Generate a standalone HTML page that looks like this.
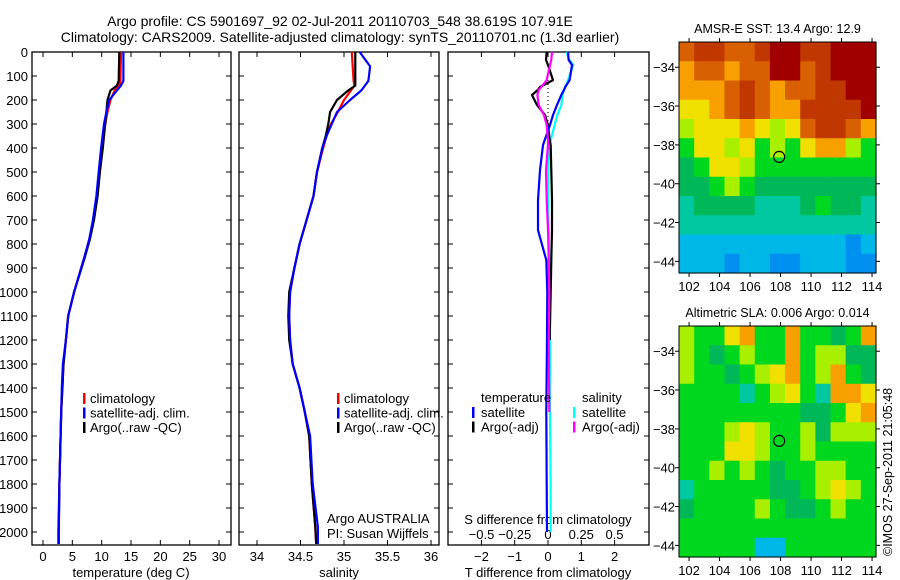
<!DOCTYPE html>
<html><head><meta charset="utf-8"><style>
body{margin:0;background:#fff;}
svg{display:block;font-family:"Liberation Sans",sans-serif;}
text{font-size:13px;fill:#000;}
</style></head><body>
<svg id="fig" width="900" height="580" viewBox="0 0 900 580" xmlns="http://www.w3.org/2000/svg">
<text x="340" y="26" text-anchor="middle" style="font-size:14px">Argo profile: CS 5901697_92 02-Jul-2011 20110703_548 38.619S 107.91E</text>
<text x="340" y="42" text-anchor="middle" style="font-size:14px">Climatology: CARS2009. Satellite-adjusted climatology: synTS_20110701.nc (1.3d earlier)</text>
<g id="g"></g>
</svg>
<script>
// ---- data ----
const tDepth=[0,120,140,160,200,250,300,400,500,600,700,780,850,1000,1100,1200,1300,1400,1500,1600,1700,1800,1900,2000,2050];
const tArgo=[13.0,12.9,12.6,11.5,11.0,10.8,10.6,10.2,9.7,9.3,8.7,8.0,7.2,5.3,4.3,3.9,3.5,3.3,3.1,3.0,2.9,2.8,2.75,2.7,2.7];
const tClim=[13.3,13.2,13.0,12.2,11.5,11.0,10.6,10.0,9.6,9.2,8.6,7.9,7.1,5.3,4.3,3.9,3.5,3.3,3.1,3.0,2.9,2.8,2.7,2.6,2.6];
const tSat=[13.7,13.7,13.3,12.6,11.3,10.8,10.4,9.9,9.5,9.1,8.5,7.9,7.1,5.3,4.3,3.9,3.4,3.2,3.1,3.0,2.9,2.8,2.75,2.65,2.65];
const sDepth=[0,60,120,140,160,200,250,300,350,400,500,600,700,800,900,1000,1100,1200,1300,1400,1500,1600,1800,1980,2050];
const sArgo=[35.13,35.13,35.13,35.13,35.05,34.92,34.84,34.82,34.79,34.75,34.69,34.65,34.57,34.49,34.43,34.37,34.36,34.37,34.41,34.49,34.55,34.60,34.63,34.67,34.68];
const sClim=[35.09,35.1,35.11,35.12,35.08,35.0,34.93,34.85,34.80,34.76,34.69,34.65,34.57,34.49,34.43,34.38,34.37,34.38,34.41,34.49,34.55,34.60,34.63,34.67,34.68];
const sSat=[35.18,35.30,35.28,35.24,35.20,35.07,34.92,34.86,34.80,34.75,34.69,34.65,34.57,34.49,34.43,34.38,34.37,34.38,34.41,34.49,34.55,34.61,34.64,34.70,34.70];
const dDepth=[0,33,54,117,146,158,179,221,263,304,367,388,492,617,742,867,1000,1200,1500,1800,2000];
const dTArgo=[-0.04,-0.06,0.0,0.15,-0.24,-0.3,-0.48,-0.33,-0.09,0,0.05,0.08,0.1,0.12,0.12,0.1,0.08,0.05,null,null,null];
const dTSat=[0.6,0.62,0.72,0.65,0.52,0.48,0.4,0.27,0.15,0.06,-0.1,-0.15,-0.24,-0.3,-0.3,-0.05,-0.02,-0.03,-0.05,-0.04,-0.03];
const dSSat=[0.14,0.16,0.19,0.15,0.13,0.12,0.11,0.1,0.07,0.05,0.02,0.015,0.0,0.0,0.005,0.01,0.01,0.015,0.015,0.02,0.02];
const dSArgo=[0.03,0.025,0.015,-0.01,-0.05,-0.07,-0.08,-0.07,-0.03,-0.01,0,0,-0.015,-0.01,0,0.005,0.01,0.005,0.01,null,null];
const depthTicks=[0,100,200,300,400,500,600,700,800,900,1000,1100,1200,1300,1400,1500,1600,1700,1800,1900,2000];
const tTicks=[0,5,10,15,20,25,30];
const sTicks=[34,34.5,35,35.5,36];
const dtTicks=[-2,-1,0,1,2];
const dsTicks=[-0.5,-0.25,0,0.25,0.5];
const lonTicks=[102,104,106,108,110,112,114];
const latTicks=[-34,-36,-38,-40,-42,-44];
const palette=["#0050d8","#0090f0","#00b8e8","#00c8a0","#00b858","#00d820","#a8f000","#f0e000","#f8a000","#d86000","#c03800","#a00000"];
const sstGrid=[
[9,10,10,9,9,10,11,11,10,10,11,11,11],
[8,9,9,8,9,9,11,11,9,10,11,11,11],
[8,8,8,9,10,9,8,9,9,10,10,11,11],
[7,7,8,9,10,9,8,8,10,10,10,10,11],
[6,7,7,7,8,7,6,7,9,10,10,9,8],
[5,7,7,6,7,5,6,5,7,8,8,6,5],
[4,5,7,7,6,5,5,5,5,5,5,5,5],
[4,4,5,6,5,4,4,4,4,4,4,4,4],
[3,4,4,4,4,3,3,3,4,5,4,4,3],
[3,3,3,3,3,3,3,3,3,3,3,3,3],
[2,2,2,2,2,2,2,2,2,2,2,1,2],
[2,2,2,1,2,2,1,1,2,2,2,1,1]];
const slaGrid=[
[6,5,5,7,8,5,5,8,5,5,4,5,8],
[6,5,4,5,6,5,5,8,5,6,6,4,4],
[6,5,5,4,5,6,7,8,5,6,8,5,4],
[5,5,5,5,3,5,6,7,5,3,8,8,7],
[5,5,5,5,5,5,5,5,4,4,5,7,8],
[5,5,5,6,7,6,5,5,6,4,6,6,6],
[5,5,5,7,7,6,5,5,6,5,5,5,5],
[5,5,6,5,6,5,4,5,5,6,6,5,5],
[3,5,5,5,5,5,4,4,5,6,7,6,5],
[4,5,5,5,5,6,5,4,4,5,6,5,5],
[5,5,5,5,5,5,5,5,5,5,5,5,5],
[5,5,5,5,5,2,2,5,5,5,5,5,5]];
const argoLon=107.91, argoLat=-38.619;

// ---- drawing ----
const NS="http://www.w3.org/2000/svg";
const G=document.getElementById('g');
function mk(tag,attrs,parent){const e=document.createElementNS(NS,tag);for(const k in attrs)e.setAttribute(k,attrs[k]);(parent||G).appendChild(e);return e;}
function txt(x,y,s,anchor,extra){const e=mk('text',Object.assign({x:x,y:y,'text-anchor':anchor||'start'},extra||{}));e.textContent=s;return e;}
const TOP=52,BOT=545;
const yD=d=>TOP+0.24*d;
const panels=[
 {name:'temperature',x0:32,x1:231,fx:v=>43+5.867*v},
 {name:'salinity',x0:239,x1:439,fx:v=>257+87*(v-34)},
 {name:'difference',x0:448,x1:649,fx:v=>548+33.3*v}];
const fS=v=>548+133*v;
panels.forEach((p,i)=>{
 const r=mk('rect',{x:p.x0,y:TOP,width:p.x1-p.x0,height:BOT-TOP,fill:'none',stroke:'#000','stroke-width':1.3});
 
 
 depthTicks.forEach(d=>{
  const l=mk('path',{d:`M${p.x0} ${yD(d)}h5M${p.x1} ${yD(d)}h-5`,stroke:'#000'});
  
  
  if(i===0){const t=txt(28,yD(d)+5,String(d),'end');
   
   }
 });
});
function xticks(p,ticks,labelY,fmt,topOnly){
 ticks.forEach(v=>{const x=p.fx(v);
  const l=mk('path',{d:`M${x} ${TOP}v5M${x} ${BOT}v-5`,stroke:'#000'});
  
  
  const t=txt(x,labelY,fmt(v),'middle');
  
  });
}
xticks(panels[0],tTicks,561,v=>String(v));
xticks(panels[1],sTicks,561,v=>String(v));
xticks(panels[2],dtTicks,561,v=>v<0?'\u2212'+(-v):String(v));
dsTicks.forEach(v=>{const t=txt(fS(v),539,v<0?'\u2212'+(-v):String(v),'middle');
 
 });
let a;
a=txt(131,577,'temperature (deg C)','middle');
a=txt(339,577,'salinity','middle');
a=txt(548,577,'T difference from climatology','middle');
a=txt(548,524,'S difference from climatology','middle');
a=txt(327,523,'Argo AUSTRALIA');
a=txt(327,538,'PI: Susan Wijffels');

// zero dotted line in diff panel
a=mk('line',{x1:548,x2:548,y1:80,y2:140,stroke:'#000','stroke-dasharray':'1 3'});


function series(depths,vals,fx,color,name){
 let d='';let pen=false;
 depths.forEach((dep,i)=>{const v=vals[i];if(v===null||v===undefined){pen=false;return;}
  d+=(pen?'L':'M')+fx(v).toFixed(1)+' '+yD(dep).toFixed(1);pen=true;});
 const e=mk('path',{d:d,fill:'none',stroke:color,'stroke-width':2.2,'stroke-linejoin':'round'});
 
 
}
series(tDepth,tClim,panels[0].fx,'#f00','temperature-climatology-line');
series(tDepth,tArgo,panels[0].fx,'#000','temperature-argo-line');
series(tDepth,tSat,panels[0].fx,'#00f','temperature-satellite-line');
series(sDepth,sClim,panels[1].fx,'#f00','salinity-climatology-line');
series(sDepth,sArgo,panels[1].fx,'#000','salinity-argo-line');
series(sDepth,sSat,panels[1].fx,'#00f','salinity-satellite-line');
series(dDepth,dSSat,fS,'#00ffff','s-diff-satellite-line');
series(dDepth,dTArgo,panels[2].fx,'#000','t-diff-argo-line');
series(dDepth,dTSat,panels[2].fx,'#00f','t-diff-satellite-line');
series(dDepth,dSArgo,fS,'#ff00ff','s-diff-argo-line');

function legend(x,items){
 items.forEach((it,i)=>{const y=398+i*14.5;
  const m=mk('rect',{x:x,y:y-5,width:2.5,height:11,fill:it[0]});
  
  
  if(it[1]){const t=txt(x+7,y+5,it[1]);
  
  }
 });
}
legend(83,[['#f00','climatology'],['#00f','satellite-adj. clim.'],['#000','Argo(..raw -QC)']]);
legend(337,[['#f00','climatology'],['#00f','satellite-adj. clim.'],['#000','Argo(..raw -QC)']]);
a=txt(481,402,'temperature');
a=txt(582,402,'salinity');
[['#00f','satellite',472,412],['#000','Argo(-adj)',472,426.5],['#00ffff','satellite',573,412],['#ff00ff','Argo(-adj)',573,426.5]].forEach(it=>{
 const m=mk('rect',{x:it[2],y:it[3]-5,width:2.5,height:11,fill:it[0]});
 
 
 const t=txt(it[2]+9,it[3]+5,it[1]);
 
 
});

// ---- maps ----
const MX0=679,MX1=876,LON0=101.34,LON1=114.26,LAT0=-32.7,LAT1=-44.6;
const fLon=v=>MX0+(v-LON0)*(MX1-MX0)/(LON1-LON0);
function map(top,bottom,grid,title,name){
 const fLat=v=>top+(LAT0-v)*(bottom-top)/(LAT0-LAT1);
 const rows=grid.length,cols=grid[0].length;
 const cw=(MX1-MX0)/cols,ch=(bottom-top)/rows;
 grid.forEach((row,r)=>row.forEach((v,c)=>{
  const cell=mk('rect',{x:(MX0+c*cw).toFixed(2),y:(top+r*ch).toFixed(2),width:(cw+0.6).toFixed(2),height:(ch+0.6).toFixed(2),fill:palette[v]});
  
  
 }));
 const f=mk('rect',{x:MX0,y:top,width:MX1-MX0,height:bottom-top,fill:'none',stroke:'#000','stroke-width':1});
 
 
 lonTicks.forEach(v=>{const x=fLon(v);
  const l=mk('path',{d:`M${x} ${top}v-4M${x} ${bottom}v4`,stroke:'#000'});
  
  
  const t=txt(x,bottom+18,String(v),'middle');
  
  });
 latTicks.forEach(v=>{const y=fLat(v);
  const l=mk('path',{d:`M${MX0} ${y}h-4M${MX1} ${y}h4`,stroke:'#000'});
  
  
  const t=txt(675,y+5,'\u2212'+(-v),'end');
  
  });
 const c=mk('circle',{cx:fLon(argoLon),cy:fLat(argoLat),r:5.5,fill:'none',stroke:'#000','stroke-width':1.2});
 
 
 const t=txt((MX0+MX1)/2,top-9,title,'middle',{style:'font-size:12.5px'});
 
 
}
map(42,273,sstGrid,'AMSR-E SST: 13.4  Argo: 12.9','sst-map');
map(326,557,slaGrid,'Altimetric SLA: 0.006  Argo: 0.014','sla-map');
a=txt(0,0,'\u00A9IMOS 27-Sep-2011 21:05:48','start',{transform:'translate(892,556) rotate(-90)',style:'font-size:12.5px'});

</script>
</body></html>
